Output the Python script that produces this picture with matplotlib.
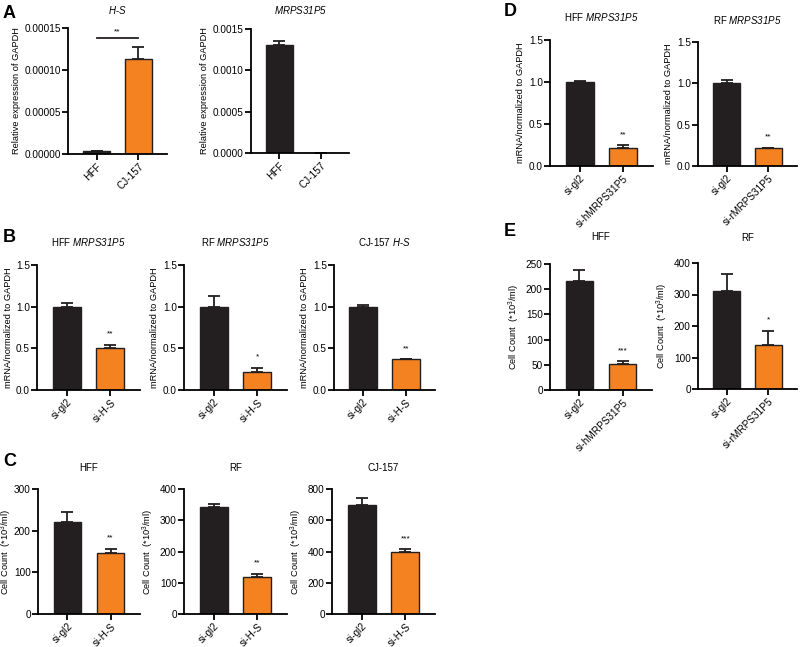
import matplotlib
matplotlib.use("Agg")
import matplotlib.pyplot as plt

plt.rcParams["font.family"] = ["Liberation Sans", "DejaVu Sans"]
plt.rcParams["mathtext.fontset"] = "custom"
plt.rcParams["mathtext.rm"] = "Liberation Sans"
plt.rcParams["mathtext.it"] = "Liberation Sans:italic"
plt.rcParams["mathtext.sf"] = "Liberation Sans:italic"   # italic gene names incl. digits
plt.rcParams["mathtext.bf"] = "Liberation Sans:bold"

# Data entry
a_cats = ["HFF", "CJ-157"]
a_hs_vals = [0.000003, 0.000113]
a_hs_errs = [0.0000005, 0.000014]
a_mr_vals = [0.00131, 0.000002]
a_mr_errs = [0.00005, 0.0]

b_cats = ["si-gl2", "si-H-S"]
b_hff_vals = [1.0, 0.51]
b_hff_errs = [0.05, 0.035]
b_rf_vals = [1.0, 0.22]
b_rf_errs = [0.13, 0.05]
b_cj_vals = [1.0, 0.37]
b_cj_errs = [0.02, 0.0]

c_hff_vals = [221, 147]
c_hff_errs = [25, 10]
c_rf_vals = [342, 118]
c_rf_errs = [11, 11]
c_cj_vals = [695, 400]
c_cj_errs = [45, 15]

d_hff_cats = ["si-gl2", "si-hMRPS31P5"]
d_rf_cats = ["si-gl2", "si-rMRPS31P5"]
d_hff_vals = [1.0, 0.22]
d_hff_errs = [0.01, 0.03]
d_rf_vals = [1.0, 0.22]
d_rf_errs = [0.04, 0.0]

e_hff_vals = [217, 52]
e_hff_errs = [21, 5]
e_rf_vals = [310, 139]
e_rf_errs = [55, 46]

BLACK = "#231f20"
ORANGE = "#f58220"
W, H = 800, 647

fig = plt.figure(figsize=(8, 6.47), dpi=100)


def box(l, t, r, b):
    return [l / W, 1 - b / H, (r - l) / W, (b - t) / H]


def panel(px, cats, vals, errs, stars, ylim, yticks, fmt, ylabel, title, title_y, label_x=None):
    ax = fig.add_axes(box(*px))
    x = range(len(cats))
    ax.bar(x, vals, width=0.64, color=[BLACK, ORANGE], edgecolor=BLACK, linewidth=1.0, zorder=2)
    ax.errorbar(x, vals, yerr=[[0] * len(errs), errs], fmt="none", ecolor=BLACK,
                elinewidth=1.3, capsize=4, capthick=1.3, zorder=1)
    for i, s in enumerate(stars):
        if s:
            ax.annotate(s, (i, vals[i] + errs[i]), xytext=(0, 5), textcoords="offset points",
                        ha="center", va="bottom", fontsize=6)
    ax.set_xlim(-0.68, 1.68)
    ax.set_ylim(*ylim)
    ax.set_yticks(yticks)
    ax.set_yticklabels([fmt.format(v) for v in yticks])
    ax.set_xticks(list(x))
    ax.set_xticklabels(cats, rotation=45, ha="right", va="top", rotation_mode="anchor")
    for s in ["top", "right"]:
        ax.spines[s].set_visible(False)
    for s in ["left", "bottom"]:
        ax.spines[s].set_linewidth(1.3)
    ax.tick_params(axis="both", direction="out", length=4, width=1.3, labelsize=7.2, pad=1.2)
    ax.set_ylabel(ylabel, fontsize=6.7, labelpad=2.5)
    if label_x is not None:
        # right edge of the rotated label, in figure pixels
        ax.yaxis.set_label_coords((label_x - px[0]) / (px[2] - px[0]), 0.5)
    ax.set_title(title, fontsize=7, pad=title_y)
    return ax


rel = "Relative expression of GAPDH"
mrna = "mRNA/normalized to GAPDH"
cell = "Cell Count  (*10$^3$/ml)"
hs = "$\\mathsf{H}$-$\\mathsf{S}$"
mr = "$\\mathsf{MRPS31P5}$"

# A
ax = panel((68, 28, 167, 154), a_cats, a_hs_vals, a_hs_errs, ["", ""], (0, 0.00015),
           [0, 0.00005, 0.0001, 0.00015], "{:.5f}", rel, hs, 10)
ax.plot([0, 1], [0.000138, 0.000138], color=BLACK, lw=1.3)
ax.text(0.5, 0.000141, "**", ha="center", va="bottom", fontsize=6)
panel((251, 29, 349, 153), a_cats, a_mr_vals, a_mr_errs, ["", ""], (0, 0.0015),
      [0, 0.0005, 0.001, 0.0015], "{:.4f}", rel, mr, 11)

# B
panel((37, 265, 140, 390), b_cats, b_hff_vals, b_hff_errs, ["", "**"], (0, 1.5),
      [0, 0.5, 1.0, 1.5], "{:.1f}", mrna, "HFF " + mr, 14, label_x=13.5)
panel((184, 265, 287, 390), b_cats, b_rf_vals, b_rf_errs, ["", "*"], (0, 1.5),
      [0, 0.5, 1.0, 1.5], "{:.1f}", mrna, "RF " + mr, 14)
panel((334, 265, 435, 390), b_cats, b_cj_vals, b_cj_errs, ["", "**"], (0, 1.5),
      [0, 0.5, 1.0, 1.5], "{:.1f}", mrna, "CJ-157 " + hs, 14)

# C
panel((38, 489, 140, 614), b_cats, c_hff_vals, c_hff_errs, ["", "**"], (0, 300),
      [0, 100, 200, 300], "{:d}", cell, "HFF", 13, label_x=14)
panel((184, 489, 287, 614), b_cats, c_rf_vals, c_rf_errs, ["", "**"], (0, 400),
      [0, 100, 200, 300, 400], "{:d}", cell, "RF", 13)
panel((332, 489, 435, 614), b_cats, c_cj_vals, c_cj_errs, ["", "***"], (0, 800),
      [0, 200, 400, 600, 800], "{:d}", cell, "CJ-157", 13)

# D
panel((550, 40, 653, 166), d_hff_cats, d_hff_vals, d_hff_errs, ["", "**"], (0, 1.5),
      [0, 0.5, 1.0, 1.5], "{:.1f}", mrna, "HFF " + mr, 14)
panel((698, 42, 797, 166), d_rf_cats, d_rf_vals, d_rf_errs, ["", "**"], (0, 1.5),
      [0, 0.5, 1.0, 1.5], "{:.1f}", mrna, "RF " + mr, 13)

# E
panel((550, 264, 652, 390), d_hff_cats, e_hff_vals, e_hff_errs, ["", "***"], (0, 250),
      [0, 50, 100, 150, 200, 250], "{:d}", cell, "HFF", 17)
panel((698, 263, 797, 389), d_rf_cats, e_rf_vals, e_rf_errs, ["", "*"], (0, 400),
      [0, 100, 200, 300, 400], "{:d}", cell, "RF", 16)

# Panel letters
for lab, (px, py) in {"A": (3, 13), "B": (3, 237), "C": (3, 461), "D": (504, 12), "E": (504, 232)}.items():
    fig.text(px / W, 1 - py / H, lab, fontsize=13, fontweight="bold", va="center", ha="left")

fig.savefig("out.png", dpi=100)
